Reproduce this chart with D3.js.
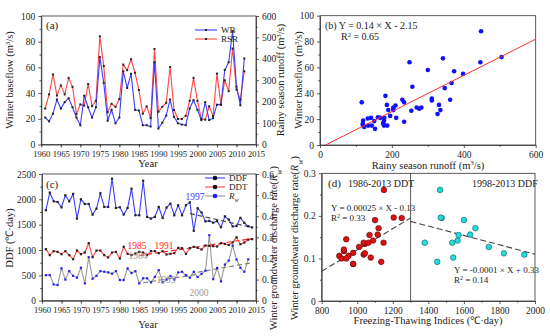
<!DOCTYPE html>
<html><head><meta charset="utf-8">
<script src="https://cdn.jsdelivr.net/npm/d3@7"></script>
<style>body{margin:0;background:#fff} text{font-family:"Liberation Serif","Times New Roman",serif;fill:#222}</style>
</head><body><svg id="c" width="550" height="336"></svg>
<script>
// ---------- data ----------
const yearsA = d3.range(1961, 2013);
const wb = [21,18,24,35,28,33,36,29,21,15,38,29,21,29,68,48,18.5,27,16.5,21,57,44,55,27,26.5,15,15,14,64,12.5,17,22.5,35,21.5,16.5,15.5,15,28,34.5,27,19,33,19,20.5,31,31,58,64,88,45,30.5,67];
const rsr = [168,234,327,229,276,234,311,269,142,187,182,282,179,204,505,366,151,190,176,212,373,347,398,335,254,144,178,123,446,153,176,195,362,161,119,119,134,204,311,204,120,116,178,133,331,186,300,249,448,257,210,342];
const yearsC = d3.range(1961, 2015);
const ddf = [1785,2132,1961,1948,1843,2080,1961,2106,1620,2000,1909,1909,1699,1817,2119,1850,1850,2407,1830,1843,1700,1830,2210,1686,1686,2368,1653,1620,1653,1850,1633,1837,1915,1686,1883,1686,1883,1940,1380,1825,1740,1565,1574,1540,1570,1450,1665,1600,1466,1475,1635,1535,1470,1445];
const ddt = [1017,899,977,964,918,977,899,820,990,918,951,1135,859,990,990,899,853,951,964,833,1063,925,899,931,964,951,899,977,977,938,977,912,925,938,1043,1036,925,1036,1063,1043,1010,1089,1082,1076,1069,1135,1120,1100,1150,1250,1115,1148,1205,1215];
const yearsRw = d3.range(1961, 2014);
const rw = [0.121,0.121,0.077,0.074,0.153,0.10,0.14,0.118,0.109,0.156,0.082,0.206,0.104,0.118,0.14,0.137,0.134,0.128,0.14,0.098,0.098,0.153,0.131,0.14,0.082,0.106,0.106,0.087,0.113,0.145,0.087,0.10,0.117,0.10,0.134,0.137,0.121,0.109,0.137,0.112,0.127,0.142,0.31,0.102,0.155,0.092,0.171,0.19,0.261,0.195,0.156,0.137,0.196];
// trend segments (year, value)
const ddfTrend = [[1998,1720],[2014,1445]];
const ddtTrend = [[1985,890],[2014,1225]];
const rwTrend1 = [[1986,0.085],[2000,0.125]];
const rwTrend2 = [[2000,0.135],[2014,0.18]];
// panel d
const ddtRange = [1986, 2013];
const ddfRange = [1998, 2013];
const fitL = [[800,0.07],[1300,0.195]];
const fitR = [[1300,0.187],[2000,0.11]];
const fitB = [[15.4,0],[600,81.85]];

// ---------- helpers ----------
const svg = d3.select("#c");
const FS = 9.5;
function axis(gen, x, y, scale, vals, minor, fmt, fs, pad) {
  const g = svg.append("g").attr("transform", `translate(${x},${y})`);
  g.call(gen(scale).tickValues(vals).tickSize(3).tickSizeOuter(0).tickPadding(pad||2).tickFormat(fmt));
  g.call(gg => gg.selectAll("text").style("font-size", (fs||FS)+"px").style("font-family","Liberation Serif").style("fill","#222"));
  const m = svg.append("g").attr("transform", `translate(${x},${y})`);
  m.call(gen(scale).tickValues(minor).tickSize(1.8).tickSizeOuter(0).tickFormat(""));
  m.select(".domain").remove();
  [g,m].forEach(s => s.selectAll("line,path").attr("stroke","#333").attr("stroke-width",0.8));
  return g;
}
function frame(x0,x1,y0,y1){
  svg.append("rect").attr("x",x0).attr("y",y0).attr("width",x1-x0).attr("height",y1-y0)
    .attr("fill","none").attr("stroke","#333").attr("stroke-width",0.8);
}
function text(x,y,s,opt={}){
  const t = svg.append("text").attr("x",x).attr("y",y).style("font-size",(opt.size||FS)+"px")
    .attr("text-anchor",opt.anchor||"start").text(s);
  if(opt.fill) t.style("fill",opt.fill);
  return t;
}
function vtitle(x,y,parts,size){
  const t = svg.append("text").attr("transform",`translate(${x},${y}) rotate(-90)`)
    .attr("text-anchor","middle").style("font-size",size+"px");
  parts.forEach(p=>{const s=t.append("tspan").text(p.t); if(p.sup) s.attr("baseline-shift","super").style("font-size",(size*0.65)+"px"); if(p.sub) s.attr("baseline-shift","sub").style("font-size",(size*0.7)+"px"); if(p.it) s.style("font-style","italic");});
  return t;
}
const blue = "#3c3cff", red = "#ff4646", gray = "#999";
const yearFmt = d3.format("d");

// ---------- panel (a) ----------
const ax = d3.scaleLinear().domain([1960,2015]).range([41.3,256]);
const ayL = d3.scaleLinear().domain([0,100]).range([144.5,16]);
const ayR = d3.scaleLinear().domain([0,600]).range([144.5,16]);
frame(41.3,256,16,144.5);
axis(d3.axisBottom,0,144.5,ax,d3.range(1960,2016,5),d3.range(1960,2016,5),yearFmt,8.6,3.5);
axis(d3.axisLeft,41.3,0,ayL,d3.range(0,101,20),d3.range(10,100,20),d3.format("d"),9.5,3);
axis(d3.axisRight,256,0,ayR,d3.range(0,601,100),d3.range(50,600,100),d3.format("d"),9.5,3);
const lineA = (ys, sc) => d3.line().x((d,i)=>ax(yearsA[i])).y(d=>sc(d))(ys);
svg.append("path").attr("d",lineA(rsr,ayR)).attr("fill","none").attr("stroke",red).attr("stroke-width",1.1);
svg.append("path").attr("d",lineA(wb,ayL)).attr("fill","none").attr("stroke",blue).attr("stroke-width",1.1);
[[rsr,ayR],[wb,ayL]].forEach(([ys,sc])=>{
  svg.append("g").selectAll("rect").data(ys).join("rect")
    .attr("x",(d,i)=>ax(yearsA[i])-1).attr("y",d=>sc(d)-1).attr("width",2).attr("height",2).attr("fill","#222");
});
text(46,29,"(a)",{size:11});
svg.append("line").attr("x1",195).attr("x2",217).attr("y1",30).attr("y2",30).attr("stroke",blue).attr("stroke-width",1.1);
svg.append("rect").attr("x",205).attr("y",29).attr("width",2).attr("height",2).attr("fill","#222");
text(221,33,"WB",{size:9});
svg.append("line").attr("x1",195).attr("x2",217).attr("y1",39).attr("y2",39).attr("stroke",red).attr("stroke-width",1.1);
svg.append("rect").attr("x",205).attr("y",38).attr("width",2).attr("height",2).attr("fill","#222");
text(221,42,"RSR",{size:9});
vtitle(13,80,[{t:"Winter baseflow (m"},{t:"3",sup:1},{t:"/s)"}],10.5);
vtitle(284,80,[{t:"Rainy season runoff (m"},{t:"3",sup:1},{t:"/s)"}],10.5);
text(148,167,"Year",{size:10.5,anchor:"middle"});

// ---------- panel (b) ----------
const bx = d3.scaleLinear().domain([0,600]).range([320,535.7]);
const by = d3.scaleLinear().domain([0,100]).range([145,15.7]);
frame(320,535.7,15.7,145);
axis(d3.axisBottom,0,145,bx,[0,200,400,600],[100,300,500],d3.format("d"),9.5,3.5);
axis(d3.axisLeft,320,0,by,d3.range(0,101,20),d3.range(10,100,20),d3.format("d"),9.5,3);
svg.append("g").selectAll("circle").data(rsr).join("circle")
  .attr("cx",d=>bx(d)).attr("cy",(d,i)=>by(wb[i])).attr("r",2.3).attr("fill","#1010ff");
svg.append("line").attr("x1",bx(fitB[0][0])).attr("y1",by(fitB[0][1])).attr("x2",bx(fitB[1][0])).attr("y2",by(fitB[1][1]))
  .attr("stroke","#ff3030").attr("stroke-width",1);
text(325,29,"(b)  Y = 0.14  ×  X - 2.15",{size:10});
const r2b = text(341,40,"R",{size:10}); r2b.append("tspan").attr("baseline-shift","super").style("font-size","6.5px").text("2"); r2b.append("tspan").text(" = 0.65");
vtitle(302,80,[{t:"Winter baseflow (m"},{t:"3",sup:1},{t:"/s)"}],10.5);
const bt = text(428,169,"Rainy season runoff (m",{size:10.5,anchor:"middle"});
bt.append("tspan").attr("baseline-shift","super").style("font-size","7px").text("3"); bt.append("tspan").text("/s)");

// ---------- panel (c) ----------
const cx = d3.scaleLinear().domain([1960,2015]).range([42,256]);
const cyL = d3.scaleLinear().domain([0,2500]).range([300.7,174]);
const cyR = d3.scaleLinear().domain([0,0.6]).range([300.7,174]);
frame(42,256,174,300.7);
axis(d3.axisBottom,0,300.7,cx,d3.range(1960,2016,5),d3.range(1960,2016,5),yearFmt,8.6,3.5);
axis(d3.axisLeft,42,0,cyL,d3.range(0,2501,500),d3.range(250,2500,500),d3.format("d"),9.5,3);
axis(d3.axisRight,256,0,cyR,d3.range(0,0.61,0.1),d3.range(0.05,0.6,0.1),v=>v===0?"0":d3.format(".1f")(v),9.5,3);
const lc = (yrs, ys, sc) => d3.line().x((d,i)=>cx(yrs[i])).y(d=>sc(d))(ys);
const dashed = (pts, sc, col) => svg.append("path").attr("d",d3.line().x(d=>cx(d[0])).y(d=>sc(d[1]))(pts))
  .attr("fill","none").attr("stroke",col).attr("stroke-width",1.1).attr("stroke-dasharray","5,3");
svg.append("path").attr("d",lc(yearsRw,rw,cyR)).attr("fill","none").attr("stroke",gray).attr("stroke-width",1.1);
svg.append("path").attr("d",lc(yearsC,ddt,cyL)).attr("fill","none").attr("stroke",red).attr("stroke-width",1.1);
svg.append("path").attr("d",lc(yearsC,ddf,cyL)).attr("fill","none").attr("stroke",blue).attr("stroke-width",1.1);
dashed(ddfTrend,cyL,"#444"); dashed(ddtTrend,cyL,"#ff2020"); dashed(rwTrend1,cyR,"#777"); dashed(rwTrend2,cyR,"#777");
[[ddf,yearsC,cyL,"#222"],[ddt,yearsC,cyL,"#222"],[rw,yearsRw,cyR,"#2020ff"]].forEach(([ys,yrs,sc,col])=>{
  svg.append("g").selectAll("rect").data(ys).join("rect")
    .attr("x",(d,i)=>cx(yrs[i])-1.1).attr("y",d=>sc(d)-1.1).attr("width",2.2).attr("height",2.2).attr("fill",col);
});
text(46,188,"(c)",{size:11});
[["DDF",blue,"#111",178],["DDT",red,"#111",187],["R",gray,"#2020ff",196]].forEach(([lab,lc2,mc,y])=>{
  svg.append("line").attr("x1",205).attr("x2",225).attr("y1",y).attr("y2",y).attr("stroke",lc2).attr("stroke-width",1.1);
  svg.append("circle").attr("cx",215).attr("cy",y).attr("r",2.3).attr("fill",mc);
  const t = text(229,y+3,lab,{size:9});
  if(lab==="R"){ t.style("font-style","italic"); t.append("tspan").attr("baseline-shift","sub").style("font-size","6px").text("w"); }
});
text(195,200,"1997",{size:9.5,fill:"#3c3cff",anchor:"middle"});
text(137,249,"1985",{size:9.5,fill:"#ff2020",anchor:"middle"});
text(164,249,"1991",{size:9.5,fill:"#ff2020",anchor:"middle"});
text(138,259,"1984",{size:9.5,fill:"#999",anchor:"middle"});
text(166,283,"1993",{size:9.5,fill:"#999",anchor:"middle"});
text(199,296,"2000",{size:9.5,fill:"#999",anchor:"middle"});
vtitle(13,238,[{t:"DDF (℃·day)"}],10.5);
vtitle(277,248,[{t:"Winter groundwater discharge rate("},{t:"R",it:1},{t:"w",sub:1},{t:")"}],10.5);
text(148,328,"Year",{size:10.5,anchor:"middle"});

// ---------- panel (d) ----------
const dx = d3.scaleLinear().domain([800,2000]).range([321.7,535]);
const dy = d3.scaleLinear().domain([0,0.3]).range([301,173.3]);
frame(321.7,535,173.3,301);
axis(d3.axisBottom,0,301,dx,d3.range(800,2001,200),d3.range(900,2000,200),d3.format("d"),9.5,3.5);
axis(d3.axisLeft,321.7,0,dy,[0,0.1,0.2,0.3],[0.05,0.15,0.25],v=>v===0?"0":d3.format(".1f")(v),9.5,3);
svg.append("line").attr("x1",dx(1300)).attr("x2",dx(1300)).attr("y1",173.3).attr("y2",301).attr("stroke","#333").attr("stroke-width",0.8);
const ptsL = yearsRw.map((y,i)=>[ddt[i],rw[i],y]).filter(p=>p[2]>=ddtRange[0]&&p[2]<=ddtRange[1]&&p[1]<=0.3);
const ptsR = yearsRw.map((y,i)=>[ddf[i],rw[i],y]).filter(p=>p[2]>=ddfRange[0]&&p[2]<=ddfRange[1]&&p[1]<=0.3);
[[fitL],[fitR]].forEach(([f])=>svg.append("line").attr("x1",dx(f[0][0])).attr("y1",dy(f[0][1])).attr("x2",dx(f[1][0])).attr("y2",dy(f[1][1]))
  .attr("stroke","#444").attr("stroke-width",1.1).attr("stroke-dasharray","6,3"));
svg.append("g").selectAll("circle").data(ptsL).join("circle").attr("cx",d=>dx(d[0])).attr("cy",d=>dy(d[1])).attr("r",2.8)
  .attr("fill","#dd1111").attr("stroke","#550000").attr("stroke-width",0.6);
svg.append("g").selectAll("circle").data(ptsR).join("circle").attr("cx",d=>dx(d[0])).attr("cy",d=>dy(d[1])).attr("r",2.8)
  .attr("fill","#22dddd").attr("stroke","#115555").attr("stroke-width",0.6);
text(328,187,"(d)",{size:11});
text(348,187,"1986-2013 DDT",{size:10});
text(472,187,"1998-2013  DDF",{size:10});
text(331,211,"Y = 0.00025  ×  X - 0.13",{size:9});
const r2l = text(331,221,"R",{size:9}); r2l.append("tspan").attr("baseline-shift","super").style("font-size","6px").text("2"); r2l.append("tspan").text(" = 0.33");
text(454,273,"Y = -0.0001  ×  X + 0.33",{size:9});
const r2r = text(454,283,"R",{size:9}); r2r.append("tspan").attr("baseline-shift","super").style("font-size","6px").text("2"); r2r.append("tspan").text(" = 0.14");
vtitle(298,238,[{t:"Winter groundwater discharge rate("},{t:"R",it:1},{t:"w",sub:1},{t:")"}],10.5);
text(428,324,"Freezing-Thawing Indices (℃·day)",{size:10.5,anchor:"middle"});
</script></body></html>
